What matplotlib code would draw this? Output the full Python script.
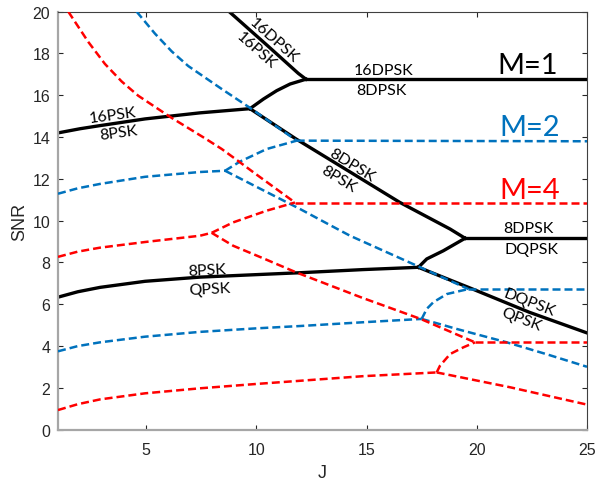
import matplotlib
matplotlib.use("Agg")
import matplotlib.pyplot as plt

# ---------------- M = 1 (black, solid) ----------------
m1_a_j = [8.77, 10.5, 11.9, 12.25]            # 16DPSK / 16PSK
m1_a_s = [20.0, 18.38, 17.05, 16.77]
m1_b_j = [12.25, 25.0]                        # 16DPSK / 8DPSK
m1_b_s = [16.77, 16.77]
m1_c_j = [1.0, 2.0, 2.91, 4.95, 7.44, 9.71]   # 16PSK / 8PSK
m1_c_s = [14.2, 14.4, 14.55, 14.87, 15.16, 15.36]
m1_d_j = [9.71, 10.32, 10.92, 11.53, 12.25]   # 16PSK -> 16DPSK branch
m1_d_s = [15.36, 15.82, 16.22, 16.54, 16.77]
m1_e_j = [9.71, 11.8, 14.3, 16.5, 18.79, 19.47]   # 8DPSK / 8PSK
m1_e_s = [15.36, 13.91, 12.3, 10.88, 9.6, 9.16]
m1_f_j = [19.47, 25.0]                        # 8DPSK / DQPSK
m1_f_s = [9.16, 9.16]
m1_g_j = [1.0, 1.9, 2.91, 4.95, 7.44, 10.02, 11.98, 14.83, 17.35]   # 8PSK / QPSK
m1_g_s = [6.34, 6.6, 6.81, 7.1, 7.3, 7.42, 7.51, 7.66, 7.77]
m1_h_j = [17.35, 17.73, 18.48, 19.47]         # 8PSK -> DQPSK branch
m1_h_s = [7.77, 8.17, 8.56, 9.16]
m1_i_j = [17.35, 19.81, 22.38, 25.0]          # DQPSK / QPSK
m1_i_s = [7.77, 6.73, 5.62, 4.63]

# ---------------- M = 2 (blue, dashed) ----------------
m2_a_j = [4.57, 5.4, 6.16, 6.91, 7.67, 8.43, 9.71, 11.83]
m2_a_s = [20.0, 18.95, 18.1, 17.4, 16.85, 16.3, 15.4, 13.83]
m2_b_j = [11.83, 25.0]
m2_b_s = [13.83, 13.8]
m2_c_j = [1.0, 1.9, 2.91, 4.95, 7.44, 8.58]
m2_c_s = [11.29, 11.55, 11.76, 12.1, 12.33, 12.39]
m2_d_j = [8.58, 9.26, 10.47, 11.83]
m2_d_s = [12.39, 12.83, 13.43, 13.83]
m2_e_j = [8.58, 9.71, 10.47, 11.98, 13.34, 14.25, 17.27, 19.62]
m2_e_s = [12.39, 11.78, 11.37, 10.56, 9.79, 9.28, 7.85, 6.73]
m2_f_j = [19.62, 25.0]
m2_f_s = [6.73, 6.73]
m2_g_j = [1.0, 1.9, 2.91, 4.95, 7.44, 10.02, 11.98, 14.83, 17.5]
m2_g_s = [3.75, 4.0, 4.18, 4.45, 4.68, 4.85, 4.96, 5.14, 5.30]
m2_h_j = [17.5, 17.73, 18.03, 18.64, 19.62]
m2_h_s = [5.30, 5.78, 6.10, 6.49, 6.73]
m2_i_j = [17.5, 19.09, 21.36, 23.14, 25.0]
m2_i_s = [5.30, 4.82, 4.18, 3.62, 3.01]

# ---------------- M = 4 (red, dashed) ----------------
m4_a_j = [1.47, 2.37, 3.13, 3.89, 4.64, 6.08, 7.67, 8.43, 9.26, 9.86, 11.75]
m4_a_s = [20.0, 18.56, 17.5, 16.66, 15.98, 14.97, 13.94, 13.43, 12.79, 12.32, 10.87]
m4_b_j = [11.75, 25.0]
m4_b_s = [10.87, 10.87]
m4_c_j = [1.0, 1.9, 2.91, 4.95, 7.44, 7.97]
m4_c_s = [8.27, 8.52, 8.71, 8.98, 9.28, 9.42]
m4_d_j = [7.97, 8.95, 10.47, 11.75]
m4_d_s = [9.42, 9.92, 10.48, 10.87]
m4_e_j = [7.97, 8.95, 10.31, 11.8, 14.83, 17.45, 19.92]
m4_e_s = [9.42, 8.80, 8.2, 7.53, 6.30, 5.30, 4.18]
m4_f_j = [19.92, 25.0]
m4_f_s = [4.18, 4.18]
m4_g_j = [1.0, 1.9, 2.91, 4.95, 7.44, 10.02, 11.98, 14.83, 18.18]
m4_g_s = [0.94, 1.22, 1.45, 1.74, 1.98, 2.19, 2.34, 2.56, 2.74]
m4_h_j = [18.18, 18.33, 18.79, 19.39, 19.92]
m4_h_s = [2.74, 3.06, 3.62, 3.94, 4.18]
m4_i_j = [18.18, 21.51, 25.0]
m4_i_s = [2.74, 2.03, 1.2]

x_ticks = [5, 10, 15, 20, 25]
y_ticks = [0, 2, 4, 6, 8, 10, 12, 14, 16, 18, 20]

BLUE = "#0072BD"
RED = "#FF0000"
label_font = "Lato"

fig = plt.figure(figsize=(5.96, 4.81), dpi=100)
ax = fig.add_axes([0.0973, 0.1046, 0.8876, 0.869])

m1_curves = [(m1_a_j, m1_a_s), (m1_b_j, m1_b_s), (m1_c_j, m1_c_s),
             (m1_d_j, m1_d_s), (m1_e_j, m1_e_s), (m1_f_j, m1_f_s),
             (m1_g_j, m1_g_s), (m1_h_j, m1_h_s), (m1_i_j, m1_i_s)]
m2_curves = [(m2_a_j, m2_a_s), (m2_b_j, m2_b_s), (m2_c_j, m2_c_s),
             (m2_d_j, m2_d_s), (m2_e_j, m2_e_s), (m2_f_j, m2_f_s),
             (m2_g_j, m2_g_s), (m2_h_j, m2_h_s), (m2_i_j, m2_i_s)]
m4_curves = [(m4_a_j, m4_a_s), (m4_b_j, m4_b_s), (m4_c_j, m4_c_s),
             (m4_d_j, m4_d_s), (m4_e_j, m4_e_s), (m4_f_j, m4_f_s),
             (m4_g_j, m4_g_s), (m4_h_j, m4_h_s), (m4_i_j, m4_i_s)]

for j, s in m1_curves:
    ax.plot(j, s, color="black", lw=2.4, solid_joinstyle="round", zorder=2)
for j, s in m2_curves:
    ax.plot(j, s, color=BLUE, lw=1.8, linestyle=(0, (3.2, 1.6)),
            dash_joinstyle="round", zorder=3)
for j, s in m4_curves:
    ax.plot(j, s, color=RED, lw=1.8, linestyle=(0, (3.2, 1.6)),
            dash_joinstyle="round", zorder=4)

# region labels along the M=1 boundaries
def tag(x, y, txt, rot=0, size=11.5):
    ax.text(x, y, txt, rotation=rot, rotation_mode="anchor", ha="center",
            va="center", fontsize=size, family=label_font, zorder=5)

tag(10.78, 18.65, "16DPSK", -41.6)
tag(9.98, 18.17, "16PSK", -41.6)
tag(15.79, 17.21, "16DPSK")
tag(15.68, 16.25, "8DPSK")
tag(3.47, 15.06, "16PSK", 7.5)
tag(3.77, 14.2, "8PSK", 7.5)
tag(14.32, 12.67, "8DPSK", -31.5)
tag(13.75, 12.0, "8PSK", -31.5)
tag(22.35, 9.65, "8DPSK")
tag(22.5, 8.65, "DQPSK")
tag(7.78, 7.62, "8PSK", 3)
tag(7.9, 6.73, "QPSK", 3)
tag(22.37, 6.09, "DQPSK", -21)
tag(22.0, 5.3, "QPSK", -21)

ax.text(22.3, 17.43, "M=1", color="black", fontsize=21, family=label_font,
        ha="center", va="center", zorder=5)
ax.text(22.4, 14.47, "M=2", color=BLUE, fontsize=21, family=label_font,
        ha="center", va="center", zorder=5)
ax.text(22.4, 11.47, "M=4", color=RED, fontsize=21, family=label_font,
        ha="center", va="center", zorder=5)

ax.set_xlim(1, 25)
ax.set_ylim(0, 20)
ax.set_xticks(x_ticks)
ax.set_yticks(y_ticks)
ax.tick_params(direction="in", top=True, right=True, length=3.5, width=0.8,
               color="#262626", labelsize=11.5, labelcolor="#262626")
ax.tick_params(axis="x", pad=9)
ax.tick_params(axis="y", pad=5.5)
for lab in ax.get_xticklabels() + ax.get_yticklabels():
    lab.set_family("Liberation Sans")

ax.spines["left"].set_color("#a6a6a6")
ax.spines["bottom"].set_color("#a6a6a6")
ax.spines["left"].set_linewidth(1.6)
ax.spines["bottom"].set_linewidth(1.6)
ax.spines["top"].set_color("#404040")
ax.spines["right"].set_color("#404040")
ax.spines["top"].set_linewidth(0.8)
ax.spines["right"].set_linewidth(0.8)

ax.set_xlabel("J", fontsize=13, family="Liberation Sans", color="#262626", labelpad=5)
ax.set_ylabel("SNR", fontsize=13, family="Liberation Sans", color="#262626", labelpad=3)

fig.savefig("out.png", dpi=100)
